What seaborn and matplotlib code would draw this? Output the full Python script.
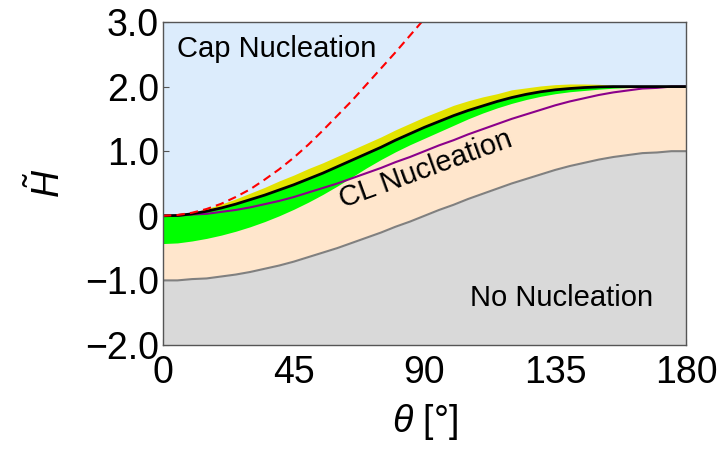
import numpy as np
import pandas as pd
import matplotlib
matplotlib.use("Agg")
import matplotlib.pyplot as plt
import seaborn as sns

# Contact angle samples [deg]
theta = list(range(0, 181, 5))

# Lower bound of contact-line nucleation (no nucleation below)
h_none = [-1.00, -1.00, -0.98, -0.97, -0.94, -0.91, -0.87, -0.82, -0.77, -0.71,
          -0.64, -0.57, -0.50, -0.42, -0.34, -0.26, -0.17, -0.09, 0.00, 0.09,
          0.17, 0.26, 0.34, 0.42, 0.50, 0.57, 0.64, 0.71, 0.77, 0.82,
          0.87, 0.91, 0.94, 0.97, 0.98, 1.00, 1.00]

# Purple boundary
h_purple = [0.00, 0.00, 0.02, 0.03, 0.06, 0.09, 0.13, 0.18, 0.23, 0.29,
            0.36, 0.43, 0.50, 0.58, 0.66, 0.74, 0.83, 0.91, 1.00, 1.09,
            1.17, 1.26, 1.34, 1.42, 1.50, 1.57, 1.64, 1.71, 1.77, 1.82,
            1.87, 1.91, 1.94, 1.97, 1.98, 2.00, 2.00]

# Cap / contact-line transition (black)
h_black = [0.00, 0.005, 0.03, 0.07, 0.12, 0.18, 0.25, 0.32, 0.40, 0.48,
           0.57, 0.66, 0.76, 0.86, 0.96, 1.06, 1.17, 1.27, 1.37, 1.46,
           1.55, 1.63, 1.70, 1.77, 1.83, 1.88, 1.92, 1.95, 1.97, 1.985,
           1.995, 2.00, 2.00, 2.00, 2.00, 2.00, 2.00]

# Upper edge of the yellow band
h_yellow = [0.00, 0.015, 0.05, 0.11, 0.18, 0.26, 0.35, 0.44, 0.54, 0.63,
            0.73, 0.82, 0.92, 1.02, 1.12, 1.22, 1.33, 1.43, 1.53, 1.62,
            1.71, 1.78, 1.84, 1.89, 1.95, 1.98, 2.01, 2.03, 2.04, 2.04,
            2.035, 2.02, 2.005, 2.00, 2.00, 2.00, 2.00]

# Lower edge of the green band
h_green = [-0.43, -0.42, -0.39, -0.35, -0.30, -0.24, -0.17, -0.09, 0.00, 0.10,
           0.21, 0.33, 0.46, 0.60, 0.74, 0.87, 0.99, 1.10, 1.20, 1.30,
           1.40, 1.50, 1.59, 1.67, 1.74, 1.80, 1.85, 1.89, 1.92, 1.94,
           1.96, 1.975, 1.985, 1.99, 2.00, 2.00, 2.00]

# Red dashed limit
theta_red = list(range(0, 91, 5))
h_red = [0.00, 0.012, 0.047, 0.105, 0.185, 0.29, 0.41, 0.56, 0.72, 0.90,
         1.10, 1.32, 1.55, 1.78, 2.03, 2.28, 2.53, 2.79, 3.05]

x_ticks = [0, 45, 90, 135, 180]
y_ticks = [-2, -1, 0, 1, 2, 3]
y_tick_labels = ["\u22122.0", "\u22121.0", "0", "1.0", "2.0", "3.0"]

sns.set_style("white")
plt.rcParams["font.family"] = ["Liberation Sans", "DejaVu Sans"]
plt.rcParams["mathtext.fontset"] = "custom"
plt.rcParams["mathtext.it"] = "Liberation Sans:italic"
plt.rcParams["mathtext.rm"] = "Liberation Sans"
plt.rcParams["text.color"] = "black"
plt.rcParams["axes.labelcolor"] = "black"
plt.rcParams["xtick.color"] = "black"
plt.rcParams["ytick.color"] = "black"

df = pd.DataFrame({"theta": theta, "none": h_none, "purple": h_purple,
                   "black": h_black, "yellow": h_yellow, "green": h_green})
df_red = pd.DataFrame({"theta": theta_red, "red": h_red})

fig = plt.figure(figsize=(7.24, 4.57), dpi=100)
ax = fig.add_axes([0.2251, 0.2451, 0.7224, 0.7068])
ax.set_facecolor("#dcecfc")

ax.fill_between(df["theta"], -2, df["none"], color="#d9d9d9", lw=0, zorder=1)
ax.fill_between(df["theta"], df["none"], df["black"], color="#ffe6cc", lw=0, zorder=1)
ax.fill_between(df["theta"], df["green"], df["black"], color="#00ff00", lw=0, zorder=2)
ax.fill_between(df["theta"], df["black"], df["yellow"], color="#e3e300", lw=0, zorder=2)

sns.lineplot(data=df, x="theta", y="none", ax=ax, color="#808080", lw=1.5, zorder=3)
sns.lineplot(data=df, x="theta", y="purple", ax=ax, color="#8b008b", lw=1.5, zorder=4)
sns.lineplot(data=df, x="theta", y="black", ax=ax, color="black", lw=2.0, zorder=5)
sns.lineplot(data=df_red, x="theta", y="red", ax=ax, color="#ff0000", lw=1.5,
             zorder=6, dashes=False, linestyle=(0, (4, 2.5)))

ax.set_xlim(0, 180)
ax.set_ylim(-2, 3)
ax.set_xticks(x_ticks)
ax.set_xticklabels([str(v) for v in x_ticks])
ax.set_yticks(y_ticks)
ax.set_yticklabels(y_tick_labels)
ax.tick_params(direction="in", length=4, width=0.8, color="#555555",
               labelsize=27, labelcolor="black",
               bottom=True, left=True, top=False, right=False)
ax.tick_params(axis="x", pad=7)
ax.tick_params(axis="y", pad=3)
for s in ax.spines.values():
    s.set_color("#555555")
    s.set_linewidth(1.0)
    s.set_zorder(10)

ax.set_xlabel(r"$\theta$ [°]", fontsize=27, labelpad=8, color="black")
ax.set_ylabel(r"$\tilde{H}$", fontsize=27, labelpad=12, color="black")

ax.text(4.8, 2.58, "Cap Nucleation", fontsize=21, ha="left", va="center",
        color="black", zorder=8)
ax.text(90.5, 0.72, "CL Nucleation", fontsize=21, ha="center", va="center",
        rotation=20, rotation_mode="anchor", color="black", zorder=8)
ax.text(137.3, -1.27, "No Nucleation", fontsize=21, ha="center", va="center",
        color="black", zorder=8)

fig.savefig("out.png", dpi=100)
